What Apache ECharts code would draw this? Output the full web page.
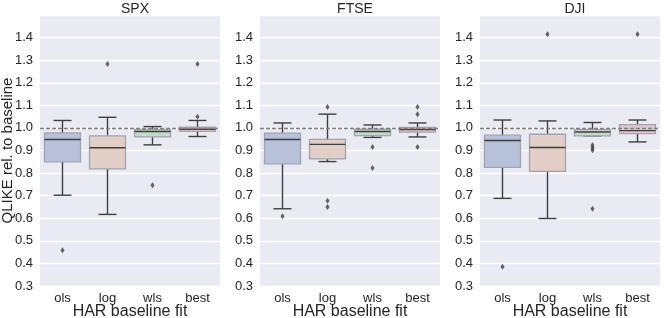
<!DOCTYPE html>
<html>
<head>
<meta charset="utf-8">
<script src="https://cdn.jsdelivr.net/npm/echarts@6/dist/echarts.min.js"></script>
<style>
html,body{margin:0;padding:0;background:#fff;}
#chart{width:664px;height:318px;}
</style>
</head>
<body>
<div id="chart"></div>
<script>
// ---- data ----
const categories = ['ols', 'log', 'wls', 'best'];
const panelTitles = ['SPX', 'FTSE', 'DJI'];
const yTicks = [0.3, 0.4, 0.5, 0.6, 0.7, 0.8, 0.9, 1.0, 1.1, 1.2, 1.3, 1.4];
const baselineValue = 1.0;

// [lower whisker, Q1, median, Q3, upper whisker]
const spxBoxes = [
  [0.702, 0.850, 0.949, 0.978, 1.033],
  [0.617, 0.819, 0.912, 0.965, 1.047],
  [0.925, 0.960, 0.984, 0.993, 1.006],
  [0.962, 0.985, 0.994, 1.003, 1.033]
];
const spxOutliers = [[0.458], [1.283], [0.746], [1.049, 1.283]];

const ftseBoxes = [
  [0.642, 0.841, 0.949, 0.977, 1.022],
  [0.851, 0.863, 0.927, 0.949, 1.061],
  [0.958, 0.966, 0.984, 0.994, 1.013],
  [0.960, 0.981, 0.993, 1.002, 1.022]
];
const ftseOutliers = [[0.609], [1.093, 0.677, 0.650], [0.916, 0.823], [1.093, 1.061, 0.916]];

const djiBoxes = [
  [0.688, 0.825, 0.944, 0.968, 1.035],
  [0.599, 0.808, 0.913, 0.972, 1.031],
  [0.965, 0.965, 0.982, 0.993, 1.024],
  [0.938, 0.975, 0.988, 1.015, 1.035]
];
const djiOutliers = [[0.385], [1.415], [0.923, 0.912, 0.901, 0.642], [1.415]];

const allBoxes = [spxBoxes, ftseBoxes, djiBoxes];
const allOutliers = [spxOutliers, ftseOutliers, djiOutliers];

// ---- style ----
const boxFills = ['#b7c1d9', '#e2cdc7', '#c4d9ca', '#e2c6cc'];
const boxEdge = '#a0a4b2';
const lineDark = '#3f3f3f';
const textColor = '#262626';
const font = 'Liberation Sans, Arial, sans-serif';

const chart = echarts.init(document.getElementById('chart'), null, {renderer: 'canvas'});

const grids = [], xAxes = [], yAxes = [], titles = [], series = [];
const panelLeft = [40, 260, 480];
const panelWidth = 180;

function renderBox(params, api) {
  const ci = api.value(0);
  const pLow = api.coord([ci, api.value(1)]);
  const pQ1 = api.coord([ci, api.value(2)]);
  const pMed = api.coord([ci, api.value(3)]);
  const pQ3 = api.coord([ci, api.value(4)]);
  const pHigh = api.coord([ci, api.value(5)]);
  const band = api.size([1, 0])[0];
  const bw = band * 0.8;
  const cw = bw * 0.5;
  const cx = pLow[0];
  const ls = {stroke: lineDark, lineWidth: 1.4};
  return {
    type: 'group',
    children: [
      {type: 'line', shape: {x1: cx, y1: pQ1[1], x2: cx, y2: pLow[1]}, style: ls},
      {type: 'line', shape: {x1: cx, y1: pQ3[1], x2: cx, y2: pHigh[1]}, style: ls},
      {type: 'line', shape: {x1: cx - cw / 2, y1: pLow[1], x2: cx + cw / 2, y2: pLow[1]}, style: ls},
      {type: 'line', shape: {x1: cx - cw / 2, y1: pHigh[1], x2: cx + cw / 2, y2: pHigh[1]}, style: ls},
      {type: 'rect', shape: {x: cx - bw / 2, y: pQ3[1], width: bw, height: pQ1[1] - pQ3[1]},
        style: {fill: boxFills[ci], stroke: boxEdge, lineWidth: 1.3}},
      {type: 'line', shape: {x1: cx - bw / 2, y1: pMed[1], x2: cx + bw / 2, y2: pMed[1]}, style: ls}
    ]
  };
}

for (let i = 0; i < 3; i++) {
  grids.push({left: panelLeft[i], top: 15, width: panelWidth, height: 271,
    show: true, backgroundColor: '#EAEAF2', borderWidth: 0, containLabel: false,
    outerBoundsMode: 'none'});
  titles.push({text: panelTitles[i], left: panelLeft[i] + panelWidth / 2, top: -3, textAlign: 'center',
    textStyle: {fontFamily: font, fontSize: 14, fontWeight: 'normal', color: textColor}});
  xAxes.push({type: 'category', gridIndex: i, data: categories,
    axisLine: {show: false}, axisTick: {show: false},
    axisLabel: {fontFamily: font, fontSize: 13, color: textColor, margin: 6},
    splitLine: {show: false},
    name: 'HAR baseline fit', nameLocation: 'middle', nameGap: 18, nameMoveOverlap: false,
    nameTextStyle: {fontFamily: font, fontSize: 16, color: textColor}});
  yAxes.push({type: 'value', gridIndex: i, min: 0.3, max: 1.5, interval: 0.1,
    axisLine: {show: false}, axisTick: {show: false},
    axisLabel: {fontFamily: font, fontSize: 13, color: textColor, margin: 7,
      formatter: v => (v > 1.45 ? '' : v.toFixed(1))},
    splitLine: {show: true, lineStyle: {color: '#ffffff', width: 1.3}},
    name: i === 0 ? 'QLIKE rel. to baseline' : '', nameLocation: 'middle', nameGap: 25, nameRotate: 90,
    nameMoveOverlap: false,
    nameTextStyle: {fontFamily: font, fontSize: 15, color: textColor}});

  const boxData = allBoxes[i].map((b, ci) => [ci].concat(b));
  series.push({type: 'custom', xAxisIndex: i, yAxisIndex: i, renderItem: renderBox,
    data: boxData, encode: {x: 0, y: [1, 2, 3, 4, 5]}, z: 2});

  const outData = [];
  allOutliers[i].forEach((arr, ci) => arr.forEach(v => outData.push([ci, v])));
  series.push({type: 'scatter', xAxisIndex: i, yAxisIndex: i, data: outData,
    symbol: 'diamond', symbolSize: [4, 6], itemStyle: {color: lineDark}, z: 3,
    markLine: {silent: true, symbol: 'none', label: {show: false},
      lineStyle: {color: '#808080', type: [4, 2], width: 1.3},
      data: [{yAxis: baselineValue}]}});
}

chart.setOption({
  animation: false,
  backgroundColor: '#ffffff',
  title: titles,
  grid: grids,
  xAxis: xAxes,
  yAxis: yAxes,
  series: series
});
</script>
</body>
</html>
